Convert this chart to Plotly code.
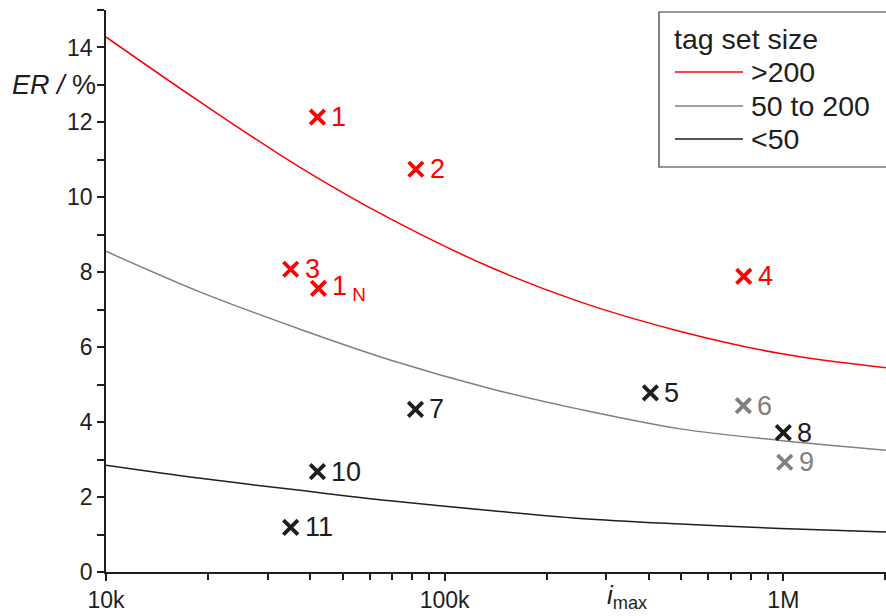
import math
import plotly.graph_objects as go

# ---- data ----
curve_x = [10000, 19000, 37400, 69000, 136000, 251000, 497000, 980000, 2010000]
curve_gt200 = [14.28, 12.54, 10.80, 9.43, 8.14, 7.21, 6.42, 5.83, 5.45]
curve_50_200 = [8.56, 7.47, 6.48, 5.66, 4.90, 4.34, 3.82, 3.51, 3.25]
curve_lt50 = [2.85, 2.50, 2.18, 1.90, 1.64, 1.43, 1.28, 1.16, 1.07]

pt_labels = ["1", "2", "3", "1<sub> N</sub>", "4", "5", "6", "7", "8", "9", "10", "11"]
pt_x = [42100, 82200, 35100, 42400, 764000, 405000, 762000, 82000, 1000000, 1010000, 42100, 35100]
pt_y = [12.14, 10.75, 8.08, 7.57, 7.89, 4.78, 4.44, 4.34, 3.72, 2.93, 2.68, 1.19]
pt_group = ["gt200", "gt200", "gt200", "gt200", "gt200", "lt50", "mid", "lt50", "lt50", "mid", "lt50", "lt50"]

legend_title = "tag set size"
legend_names = [">200", "50 to 200", "<50"]

x_ticks = [1e4, 1e5, 1e6]
x_ticktext = ["10k", "100k", "1M"]
x_minor = [m * d for d in (1e4, 1e5) for m in range(2, 10)] + [2e6]

# ---- styles ----
RED = "#ff0000"
GRAY = "#808080"
BLACK = "#1e1e1e"
group_color = {"gt200": RED, "mid": GRAY, "lt50": BLACK}
FONT = "Liberation Sans, Arial, sans-serif"

W, H = 886, 616
ML, MR, MT, MB = 106, 0, 10, 44
PW, PH = W - ML - MR, H - MT - MB


def px2paper(px, py):
    return (px - ML) / PW, (H - MB - py) / PH


fig = go.Figure()

for ys, col in [(curve_gt200, RED), (curve_50_200, GRAY), (curve_lt50, BLACK)]:
    fig.add_trace(go.Scatter(x=curve_x, y=ys, mode="lines",
                             line=dict(color=col, width=1.5, shape="spline", smoothing=1.0),
                             showlegend=False, hoverinfo="skip"))

for g in ["gt200", "mid", "lt50"]:
    idx = [i for i, gg in enumerate(pt_group) if gg == g]
    fig.add_trace(go.Scatter(
        x=[pt_x[i] for i in idx], y=[pt_y[i] for i in idx], mode="markers",
        marker=dict(symbol="x-thin", size=14.5, line=dict(color=group_color[g], width=3.8)),
        showlegend=False))

for lab, xv, yv, g in zip(pt_labels, pt_x, pt_y, pt_group):
    fig.add_annotation(x=math.log10(xv), y=yv, xref="x", yref="y", text=lab, showarrow=False,
                       xanchor="left", yanchor="middle", xshift=12,
                       font=dict(family=FONT, size=27, color=group_color[g]))

# ---- manual legend ----
bx0, by0 = px2paper(659, 12)
bx1, by1 = px2paper(892, 167)
fig.add_shape(type="rect", xref="paper", yref="paper", x0=bx0, y0=by1, x1=bx1, y1=by0,
              line=dict(color="#333333", width=1.2), fillcolor="white", layer="above")
tx, ty = px2paper(672, 39)
fig.add_annotation(xref="paper", yref="paper", x=tx, y=ty, text=legend_title, showarrow=False,
                   xanchor="left", yanchor="middle", font=dict(family=FONT, size=28.5, color="#1e1e1e"))
for name, col, py in zip(legend_names, [RED, GRAY, BLACK], [72, 106, 139]):
    lx0, ly = px2paper(675, py)
    lx1, _ = px2paper(743, py)
    fig.add_shape(type="line", xref="paper", yref="paper", x0=lx0, x1=lx1, y0=ly, y1=ly,
                  line=dict(color=col, width=1.5))
    ax, _ = px2paper(749, py)
    fig.add_annotation(xref="paper", yref="paper", x=ax, y=ly, text=name, showarrow=False,
                       xanchor="left", yanchor="middle", font=dict(family=FONT, size=28.5, color="#1e1e1e"))

# ---- axis titles ----
fig.add_annotation(xref="paper", yref="y", x=0, y=13.0, xshift=-8, text="<i>ER</i> <i>/</i> %",
                   showarrow=False, xanchor="right", yanchor="middle",
                   font=dict(family=FONT, size=27, color="#1e1e1e"))
fig.add_annotation(xref="x", yref="paper", x=math.log10(345000), y=0, yshift=-6,
                   text="<i>i</i><sub>max</sub>",
                   showarrow=False, xanchor="center", yanchor="top",
                   font=dict(family=FONT, size=26, color="#1e1e1e"))

fig.update_layout(
    width=W, height=H, margin=dict(l=ML, r=MR, t=MT, b=MB),
    paper_bgcolor="white", plot_bgcolor="white", showlegend=False,
    font=dict(family=FONT, size=23, color="#1e1e1e"),
    xaxis=dict(type="log", range=[4, 6.3032], tickvals=x_ticks, ticktext=x_ticktext,
               ticks="outside", ticklen=7, tickwidth=1.5, tickcolor="#1e1e1e",
               showline=True, linecolor="#1e1e1e", linewidth=1.5, showgrid=False, zeroline=False,
               minor=dict(tickvals=x_minor, ticks="outside", ticklen=6, tickwidth=1.5,
                          tickcolor="#1e1e1e", showgrid=False),
               tickfont=dict(size=23)),
    yaxis=dict(range=[0, 15], tickvals=[0, 2, 4, 6, 8, 10, 12, 14],
               ticks="outside", ticklen=7, tickwidth=1.5, tickcolor="#1e1e1e",
               showline=True, linecolor="#1e1e1e", linewidth=1.5, showgrid=False, zeroline=False,
               minor=dict(tickvals=[1, 3, 5, 7, 9, 11, 13, 15], ticks="outside", ticklen=7,
                          tickwidth=1.5, tickcolor="#1e1e1e", showgrid=False),
               tickfont=dict(size=23)),
)

fig.write_html("out.html")
